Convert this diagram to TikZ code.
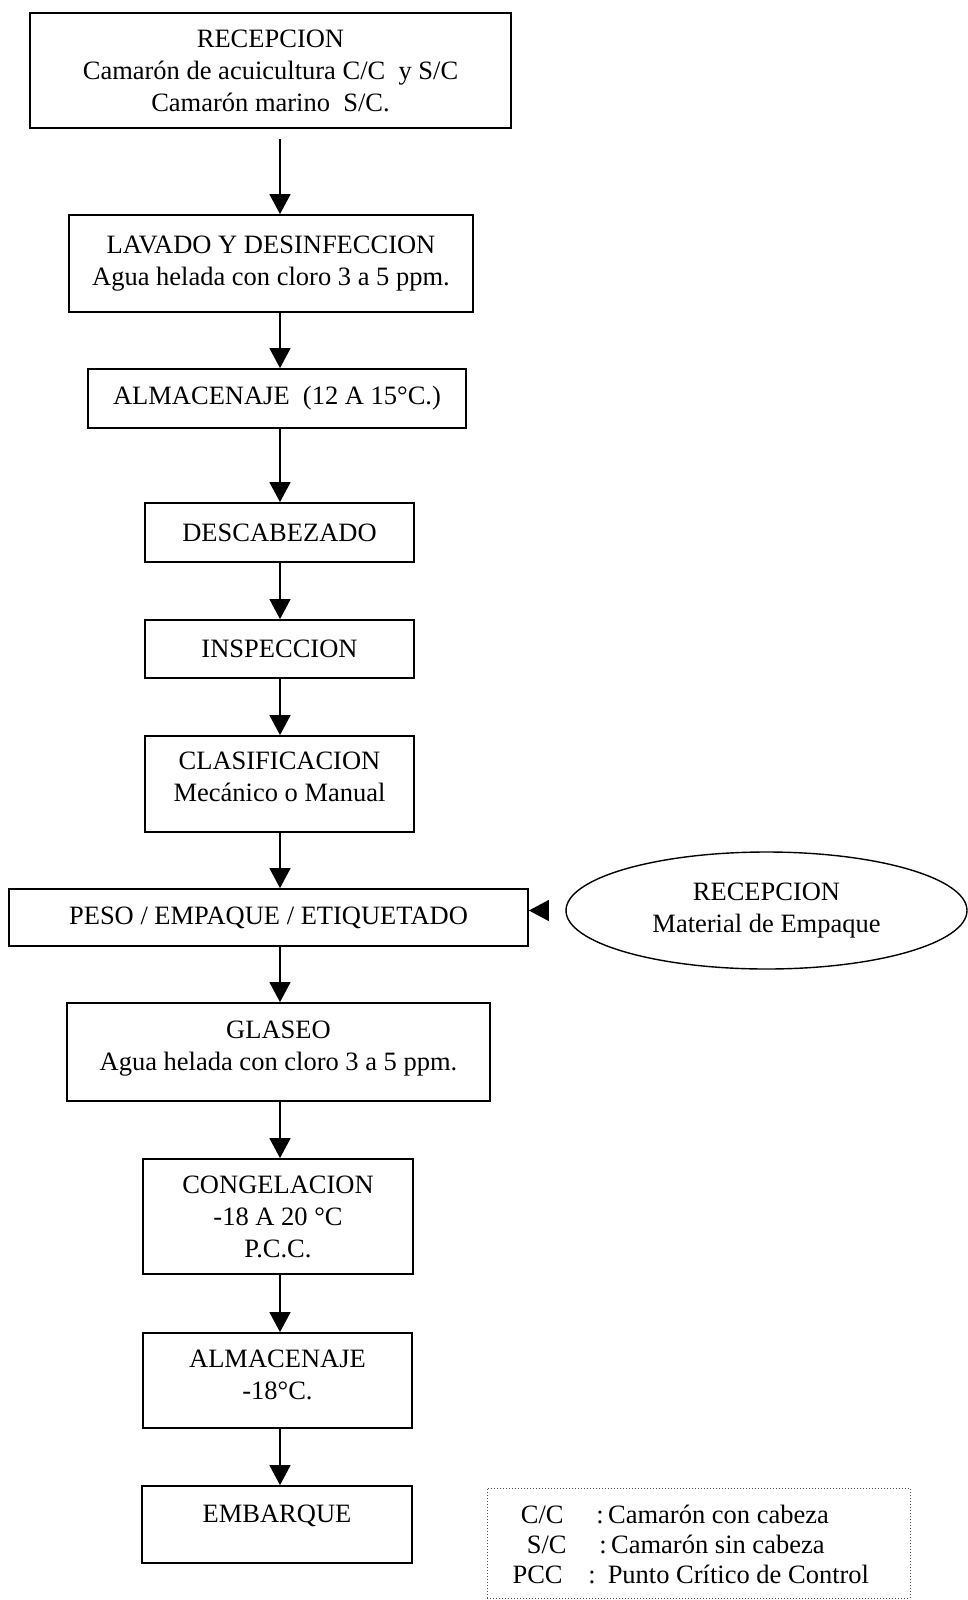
\documentclass[tikz,border=0pt]{standalone}
\usepackage{fontspec}
\setmainfont{Liberation Serif}
\usetikzlibrary{arrows.meta,shapes.geometric}

\begin{document}
\begin{tikzpicture}[x=0.5pt,y=-0.5pt,
  font=\fontsize{13.25}{16}\selectfont,
  box/.style={draw,line width=0.9pt,align=center,inner sep=0pt},
  arr/.style={-{Triangle[length=10pt,width=10.5pt]},line width=0.7pt}]
\useasboundingbox (0,0) rectangle (968,1600);
\coordinate (eje) at (280,0);
% proceso principal
\node[box,minimum width=240.5pt,minimum height=57.5pt] (rec) at (270.5,70.5)
  {RECEPCION\\Camarón de acuicultura C/C\ \ y S/C\\Camarón marino\ \ S/C.};
\node[box,minimum width=202pt,minimum height=48.5pt] (lav) at (271,263.5)
  {LAVADO Y DESINFECCION\\Agua helada con cloro 3 a 5 ppm.};
\node[box,minimum width=189pt,minimum height=29.5pt] (alm1) at (277,398.5)
  {ALMACENAJE\ \ (12 A 15°C.)};
\node[box,minimum width=134.5pt,minimum height=29.5pt] (desc) at (279.5,532.5)
  {DESCABEZADO};
\node[box,minimum width=134.5pt,minimum height=29pt] (insp) at (279.5,649)
  {INSPECCION};
\node[box,minimum width=134.5pt,minimum height=48pt] (clas) at (279.5,784)
  {CLASIFICACION\\Mecánico o Manual\\[-9pt]\mbox{}};
\node[box,minimum width=259.5pt,minimum height=28.5pt] (peso) at (268.5,917.5)
  {PESO / EMPAQUE / ETIQUETADO};
\node[box,minimum width=211.5pt,minimum height=49pt] (glas) at (278.5,1052)
  {GLASEO\\Agua helada con cloro 3 a 5 ppm.\\[-10pt]\mbox{}};
\node[box,minimum width=135pt,minimum height=57.5pt] (cong) at (278,1216.5)
  {CONGELACION\\-18 A 20 °C\\P.C.C.};
\node[box,minimum width=134.5pt,minimum height=47.5pt] (alm2) at (277.5,1380.5)
  {ALMACENAJE\\-18°C.\\[-10pt]\mbox{}};
\node[box,minimum width=135pt,minimum height=38.5pt] (emb) at (277,1524.5)
  {EMBARQUE\\[-5pt]\mbox{}};
% material de empaque
\node[box,ellipse,line width=0.7pt,minimum width=200.5pt,minimum height=58.5pt] (rme) at (766.5,910.5)
  {RECEPCION\\Material de Empaque};
% flechas
\draw[arr,shorten <=5pt] (rec.south -| eje) -- (lav.north -| eje);
\foreach \a/\b in {lav/alm1,alm1/desc,desc/insp,insp/clas,clas/peso,peso/glas,glas/cong,cong/alm2,alm2/emb}
  \draw[arr] (\a.south -| eje) -- (\b.north -| eje);
\draw[arr,shorten <=8.5pt] (rme.west) -- (rme.west -| peso.east);
% leyenda
\node[draw=black!70,densely dotted,line width=0.5pt,minimum width=211.5pt,minimum height=55pt,inner sep=0pt] (ley) at (698.5,1543) {};
\node[anchor=base east,inner sep=0pt] (lcc) at (564,1523) {C/C};
\node[anchor=base west,inner sep=0pt] (lccd) at (596,1523) {:\,Camarón con cabeza};
\node[anchor=base east,inner sep=0pt] (lsc) at (567,1553) {S/C};
\node[anchor=base west,inner sep=0pt] (lscd) at (599,1553) {:\,Camarón sin cabeza};
\node[anchor=base east,inner sep=0pt] (lpcc) at (563,1583) {PCC};
\node[anchor=base west,inner sep=0pt] (lpccd) at (588,1583) {:\hspace{6pt}Punto Crítico de Control};
\end{tikzpicture}
\end{document}
